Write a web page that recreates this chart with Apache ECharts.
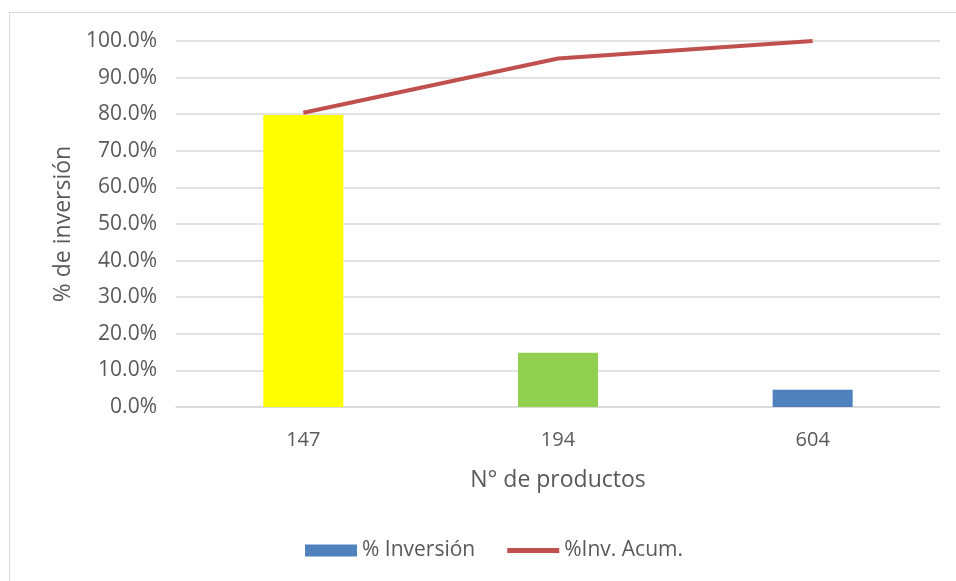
<!DOCTYPE html>
<html>
<head>
<meta charset="utf-8">
<script src="https://cdn.jsdelivr.net/npm/echarts@6/dist/echarts.min.js"></script>
<style>
html,body{margin:0;padding:0;background:#fff;}
#chart{width:956px;height:581px;}
</style>
</head>
<body>
<div id="chart"></div>
<script>
// datos
var productos = ['147', '194', '604'];
var inversion = [79.8, 14.8, 4.7];
var acumulado = [80.4, 95.2, 100];
var barColors = ['#FFFF00', '#92D050', '#4F81BD'];

var font = 'Open Sans';

var chart = echarts.init(document.getElementById('chart'));
chart.setOption({
  animation: false,
  textStyle: { fontFamily: font },
  graphic: [{
    type: 'rect',
    shape: { x: 9.5, y: 12.5, width: 1200, height: 1200 },
    style: { fill: 'none', stroke: '#d9d9d9', lineWidth: 1 },
    silent: true
  }],
  grid: { left: 176, right: 16, top: 41, bottom: 174 },
  legend: {
    bottom: 15,
    left: 300,
    itemWidth: 52,
    itemHeight: 12,
    itemGap: 32,
    textStyle: { color: '#595959', fontSize: 21, fontFamily: font },
    data: [
      { name: '% Inversión', icon: 'rect' },
      { name: '%Inv. Acum.', icon: 'path://M0,0L52,0L52,5L0,5Z' }
    ]
  },
  xAxis: {
    type: 'category',
    data: productos,
    boundaryGap: true,
    name: 'N° de productos',
    nameLocation: 'middle',
    nameGap: 62,
    nameTextStyle: { color: '#595959', fontSize: 23, fontFamily: font },
    axisLine: { lineStyle: { color: '#d9d9d9', width: 1.5 } },
    axisTick: { show: false },
    axisLabel: { color: '#595959', fontSize: 20, margin: 23, fontFamily: font }
  },
  yAxis: {
    type: 'value',
    min: 0,
    max: 100,
    interval: 10,
    name: '% de inversión',
    nameLocation: 'middle',
    nameGap: 100,
    nameTextStyle: { color: '#595959', fontSize: 23, fontFamily: font },
    axisLine: { show: false },
    axisTick: { show: false },
    axisLabel: {
      color: '#595959', fontSize: 21, margin: 19, fontFamily: font,
      formatter: function (v) { return v.toFixed(1) + '%'; }
    },
    splitLine: { lineStyle: { color: '#d9d9d9', width: 1.5 } }
  },
  series: [
    {
      name: '% Inversión',
      type: 'bar',
      barWidth: 80,
      color: '#4F81BD',
      data: inversion.map(function (v, i) {
        return { value: v, itemStyle: { color: barColors[i] } };
      })
    },
    {
      name: '%Inv. Acum.',
      type: 'line',
      color: '#C0504D',
      symbol: 'none',
      lineStyle: { width: 4, color: '#C0504D' },
      data: acumulado
    }
  ]
});
</script>
</body>
</html>
